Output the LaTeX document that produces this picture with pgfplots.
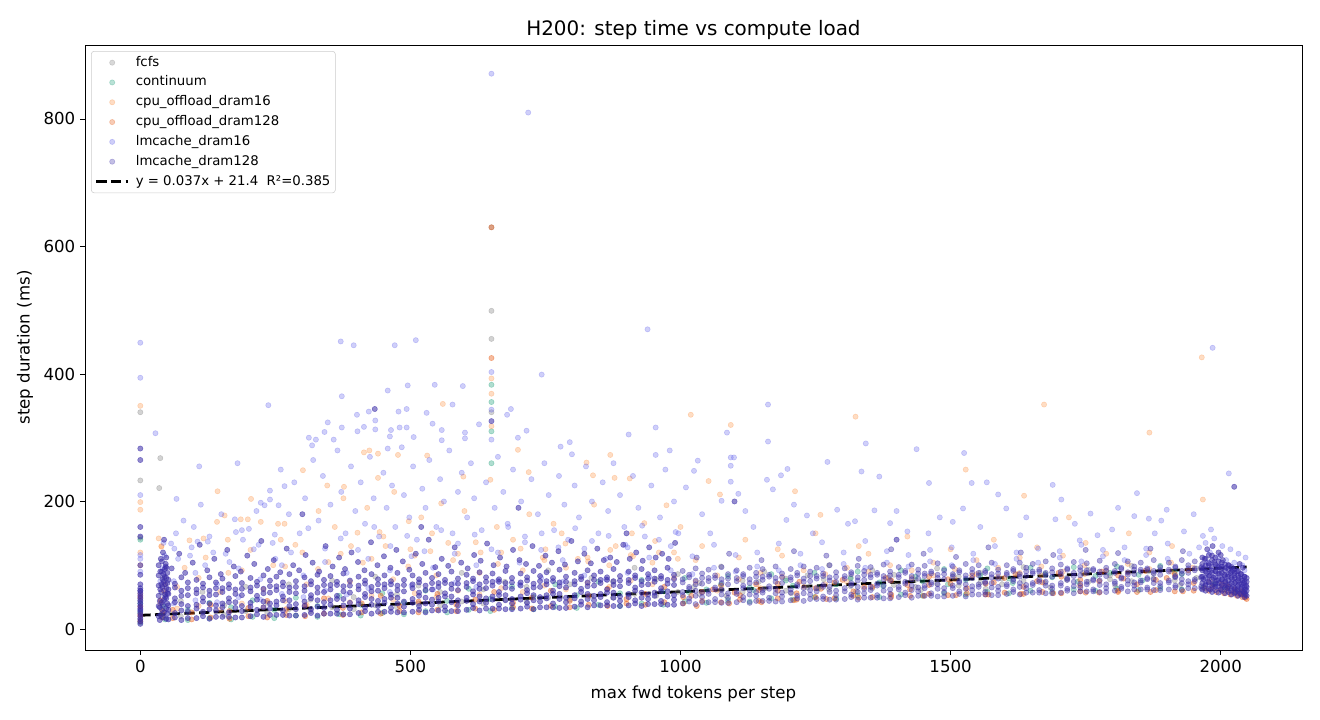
\documentclass[border=0pt]{standalone}
\usepackage{pgfplots}
\pgfplotsset{compat=1.18}
\usepackage{fontspec}
\setmainfont{DejaVu Sans}

\definecolor{cfcfs}{RGB}{128,128,128}
\definecolor{ccont}{RGB}{27,158,119}
\definecolor{ccpu16}{RGB}{253,141,60}
\definecolor{ccpu128}{RGB}{230,85,13}
\definecolor{clm16}{RGB}{95,95,235}
\definecolor{clm128}{RGB}{58,44,168}

\pgfplotsset{
    dot/.style 2 args={only marks, mark=*, mark size=1.9bp, color=#1,
        mark options={opacity=#2},
        legend image code/.code={\draw[mark repeat=2, mark phase=2, ##1, mark options={opacity=0.3}]
            plot coordinates {(0bp,0bp) (11.5bp,0bp) (23bp,0bp)};}},
    fitline/.style={black, line width=2bp, dash pattern=on 7.4bp off 3.2bp,
        legend image code/.code={\draw[##1] (0bp,0bp) -- (23bp,0bp);}},
}

\begin{document}
\begin{tikzpicture}
\useasboundingbox (0,0) rectangle (950.4bp,518.4bp);
\begin{axis}[
    at={(61.2bp,50.4bp)}, anchor=south west,
    scale only axis,
    width=876.2bp, height=435.6bp,
    xmin=-102.4, xmax=2150.4,
    ymin=-33, ymax=916,
    xtick={0,500,1000,1500,2000},
    ytick={0,200,400,600,800},
    xtick pos=bottom, ytick pos=left,
    tick align=outside,
    major tick length=3.5bp,
    tick style={black, line width=0.6bp},
    axis line style={line width=0.6bp},
    /pgf/number format/assume math mode=true,
    /pgf/number format/1000 sep={},
    tick label style={font=\fontsize{12}{14}\selectfont},
    title={H200: step time vs compute load},
    title style={font=\fontsize{14.4}{17}\selectfont, at={(axis description cs:0.5,1.0264)}, anchor=center, yshift=-6.5pt},
    xlabel={max fwd tokens per step},
    ylabel={step duration (ms)},
    xlabel style={font=\fontsize{12}{14}\selectfont, at={(axis description cs:0.5,-0.0727)}, anchor=center},
    ylabel style={font=\fontsize{12}{14}\selectfont, at={(axis description cs:-0.0493,0.5)}, anchor=center, rotate=0},
    legend cell align=left,
    legend style={at={(0.005,0.99)}, anchor=north west,
        draw={rgb,255:red,204;green,204;blue,204}, rounded corners=2bp,
        fill=white, fill opacity=0.8, text opacity=1,
        font=\fontsize{9.6}{11.5}\selectfont,
        nodes={inner sep=1bp, text height=7.2bp, text depth=2.1bp},
        row sep=2.96bp, inner xsep=2.5bp, inner ysep=2.5bp,
        /tikz/every odd column/.append style={column sep=3.5bp}},
]

% fcfs
\addplot[dot={cfcfs}{0.35}] coordinates {
(0,15) (0,30) (0,45) (0,60) (0,143) (0,233) (0,340) (35,221) (41,25) (45,55) (44,80) (37,268)
(75,20) (75,44) (115,25) (115,58) (155,22) (155,37) (195,28) (195,66) (235,25) (235,41)
(275,31) (275,70) (315,28) (315,46) (355,34) (355,76) (395,31) (395,50) (435,37) (435,82)
(475,34) (475,54) (515,40) (515,68) (555,37) (555,58) (595,43) (595,88) (635,40) (635,62)
(675,46) (675,74) (715,43) (715,66) (755,49) (755,92) (795,46) (795,70) (835,52) (835,80)
(875,49) (875,74) (915,55) (915,96) (955,52) (955,78) (995,58) (995,86) (1035,55) (1035,72)
(1075,61) (1075,98) (1115,58) (1115,76) (1155,63) (1155,90) (1195,60) (1195,79) (1235,65) (1235,84)
(1275,62) (1275,100) (1315,67) (1315,81) (1355,64) (1355,92) (1395,69) (1395,85) (1435,66) (1435,77)
(1475,71) (1475,95) (1515,68) (1515,82) (1555,73) (1555,88) (1595,70) (1595,79) (1635,75) (1635,97)
(1675,72) (1675,86) (1715,77) (1715,80) (1755,74) (1755,93) (1795,78) (1795,84) (1835,75) (1835,99)
(1875,79) (1875,88) (1915,76) (1915,82) (1955,80) (1955,95) (1990,72) (2010,66) (2030,60) (2045,56)
(1025,66) (1085,52) (1145,74) (1205,56) (1265,78) (1325,59) (1385,80) (1445,61) (1505,84) (1565,63)
(1625,86) (1685,65) (1745,88) (1805,67) (1865,90) (1925,69)
(650,630) (650,499) (650,455) (650,340)
};
\addlegendentry{fcfs}

% continuum
\addplot[dot={ccont}{0.35}] coordinates {
(0,10) (0,26) (0,40) (0,140) (39,20) (43,35) (46,15)
(88,14) (88,30) (128,17) (128,41) (168,15) (168,34) (208,19) (208,45) (248,17) (248,30)
(288,21) (288,49) (328,19) (328,36) (368,23) (368,52) (408,21) (408,38) (448,25) (448,56)
(488,23) (488,41) (528,28) (528,60) (568,26) (568,44) (608,30) (608,63) (648,28) (648,47)
(688,33) (688,67) (728,31) (728,50) (768,35) (768,70) (808,33) (808,53) (848,38) (848,74)
(888,36) (888,56) (928,40) (928,77) (968,38) (968,59) (1008,43) (1008,80) (1048,41) (1048,62)
(1088,45) (1088,83) (1128,43) (1128,65) (1168,48) (1168,86) (1208,46) (1208,68) (1248,50) (1248,88)
(1288,48) (1288,70) (1328,52) (1328,90) (1368,50) (1368,73) (1408,54) (1408,92) (1448,52) (1448,75)
(1488,56) (1488,94) (1528,54) (1528,77) (1568,58) (1568,95) (1608,56) (1608,79) (1648,60) (1648,96)
(1688,58) (1688,81) (1728,62) (1728,97) (1768,60) (1768,83) (1808,63) (1808,98) (1848,61) (1848,85)
(1888,64) (1888,99) (1928,62) (1928,86) (1968,65) (1988,70) (2008,62) (2028,58) (2044,55)
(1015,58) (1075,70) (1135,61) (1195,76) (1255,64) (1315,79) (1375,67) (1435,82) (1495,70) (1555,84)
(1615,72) (1675,86) (1735,74) (1795,88) (1855,76) (1915,90)
(650,383) (650,356) (650,310) (650,260)
};
\addlegendentry{continuum}

% cpu_offload_dram16
\addplot[dot={ccpu16}{0.3}] coordinates {
(0,20) (0,55) (0,100) (0,120) (0,187) (0,199) (0,350) (37,40) (45,70) (39,130)
(68,32) (68,66) (108,36) (108,80) (148,30) (148,58) (188,40) (188,92) (228,34) (228,62)
(268,44) (268,98) (308,38) (308,70) (348,48) (348,105) (388,42) (388,74) (428,52) (428,110)
(468,46) (468,78) (508,56) (508,115) (548,50) (548,84) (588,60) (588,118) (628,54) (628,88)
(668,64) (668,120) (708,58) (708,92) (748,68) (748,108) (788,62) (788,96) (828,72) (828,112)
(868,66) (868,100) (908,76) (908,116) (948,70) (948,104) (988,80) (988,120) (1028,74) (1028,108)
(1068,84) (1068,60) (1108,78) (1108,112) (1148,64) (1148,88) (1188,82) (1188,115) (1228,66) (1228,92)
(1268,86) (1268,70) (1308,96) (1308,74) (1348,90) (1348,118) (1388,76) (1388,100) (1428,92) (1428,80)
(1468,104) (1468,84) (1508,94) (1508,78) (1548,108) (1548,86) (1588,96) (1588,82) (1628,112) (1628,88)
(1668,98) (1668,84) (1708,115) (1708,90) (1748,100) (1748,86) (1788,118) (1788,92) (1828,102) (1828,88)
(1868,120) (1868,94) (1908,104) (1908,90) (1948,96) (1980,75) (2010,70) (2040,60)
(82,96) (121,112) (163,88) (204,124) (246,100) (287,132) (329,94) (371,118) (412,104) (454,130)
(496,98) (537,122) (579,108) (621,136) (662,102) (704,126) (745,112) (787,134) (829,106) (870,124)
(912,114) (953,138) (995,110)
(143,216) (205,204) (156,178) (142,168) (186,172) (199,172) (223,168) (255,165) (267,165)
(91,139) (117,142) (162,140) (34,142) (39,129) (560,353) (414,277) (424,280) (440,275)
(477,273) (531,272) (699,281) (870,273) (1019,336) (1093,320) (1324,333) (1673,352)
(1868,308) (1965,426) (1528,250) (1967,203) (1636,209) (1212,216) (1259,179) (1073,211)
(1052,232) (1719,175) (650,393) (650,369) (650,318)
(301,249) (346,225) (377,223) (440,237) (376,205) (402,151) (443,152) (497,169) (557,197)
(598,239) (648,234) (719,246) (765,165) (826,261) (838,241) (878,237) (906,236) (933,166) (974,194)
(260,140) (300,120) (330,185) (360,160) (390,130) (420,190) (450,145) (470,215) (500,125)
(520,175) (540,150) (570,135) (600,185) (630,120) (660,160) (690,140) (720,180) (750,125)
(780,150) (810,110) (840,195) (880,130) (910,150) (960,120) (1000,160) (1040,130) (1120,140)
(1180,125) (1250,150) (1330,130) (1420,145) (1500,125) (1580,140) (1660,128) (1750,135)
(1830,150) (1910,130)
};
\addlegendentry{cpu\_offload\_dram16}

% cpu_offload_dram128
\addplot[dot={ccpu128}{0.4}] coordinates {
(0,12) (0,22) (0,35) (0,50) (40,18) (42,28) (38,45) (44,60)
(60,17) (60,30) (95,15) (95,26) (130,18) (130,38) (165,16) (165,28) (200,20) (200,33)
(235,18) (235,44) (270,22) (270,31) (305,20) (305,37) (340,24) (340,48) (375,22) (375,33)
(410,26) (410,40) (445,24) (445,52) (480,28) (480,36) (515,26) (515,43) (550,30) (550,55)
(585,28) (585,38) (620,32) (620,46) (655,30) (655,58) (690,34) (690,41) (725,32) (725,49)
(760,36) (760,60) (795,34) (795,44) (830,38) (830,52) (865,36) (865,63) (900,40) (900,47)
(935,38) (935,55) (970,42) (970,66) (1005,40) (1005,50) (1040,44) (1040,58) (1075,42) (1075,68)
(1110,46) (1110,53) (1145,44) (1145,61) (1180,48) (1180,71) (1215,46) (1215,56) (1250,50) (1250,64)
(1285,48) (1285,73) (1320,52) (1320,59) (1355,50) (1355,66) (1390,54) (1390,76) (1425,52) (1425,62)
(1460,55) (1460,69) (1495,53) (1495,78) (1530,56) (1530,64) (1565,54) (1565,71) (1600,57) (1600,80)
(1635,55) (1635,66) (1670,58) (1670,73) (1705,56) (1705,82) (1740,59) (1740,68) (1775,57) (1775,75)
(1810,60) (1810,84) (1845,58) (1845,70) (1880,61) (1880,77) (1915,59) (1915,86) (1950,60) (1950,72)
(1020,52) (1060,62) (1100,57) (1140,70) (1180,60) (1220,74) (1260,63) (1300,77) (1340,66) (1380,80)
(1420,69) (1460,82) (1500,71) (1540,84) (1580,73) (1620,86) (1660,75) (1700,88) (1740,77) (1780,90)
(1820,79) (1860,91) (1900,80) (1940,92)
(1030,36) (1090,40) (1150,42) (1210,45) (1270,47) (1330,49) (1390,50) (1450,52) (1510,53) (1570,54)
(1630,55) (1690,56) (1750,57) (1810,58) (1870,58) (1930,59)
(1970,64) (1978,60) (1985,66) (1992,58) (2000,62) (2006,56) (2012,60) (2018,54) (2024,57) (2030,52)
(2035,55) (2040,50) (2044,52) (2048,47) (2046,49) (2042,54) (2038,58) (2026,62) (2014,66) (2002,70)
(650,425) (650,630)
};
\addlegendentry{cpu\_offload\_dram128}

% lmcache_dram16
\addplot[dot={clm16}{0.3}] coordinates {
(0,30) (0,60) (0,90) (0,110) (0,116) (0,210) (0,394) (0,449)
(37,75) (41,95) (45,115) (43,135) (47,60) (28,307)
(62,40) (62,75) (102,45) (102,88) (142,42) (142,70) (182,50) (182,95) (222,46) (222,78)
(262,55) (262,100) (302,50) (302,84) (342,60) (342,105) (382,54) (382,88) (422,64) (422,110)
(462,58) (462,92) (502,68) (502,114) (542,62) (542,96) (582,72) (582,118) (622,66) (622,100)
(662,76) (662,120) (702,70) (702,104) (742,80) (742,124) (782,74) (782,108) (822,84) (822,126)
(862,78) (862,110) (902,88) (902,128) (942,82) (942,112) (982,92) (982,130) (1022,86) (1022,114)
(1062,96) (1062,132) (1102,90) (1102,116) (1142,98) (1142,120) (1182,92) (1182,134) (1222,100) (1222,118)
(1262,94) (1262,136) (1302,102) (1302,120) (1342,96) (1342,138) (1382,104) (1382,122) (1422,98) (1422,116)
(1462,106) (1462,124) (1502,100) (1502,128) (1542,108) (1542,118) (1582,102) (1582,130) (1622,110) (1622,120)
(1662,104) (1662,126) (1702,112) (1702,122) (1742,106) (1742,132) (1782,114) (1782,124) (1822,108) (1822,128)
(1862,116) (1862,126) (1902,110) (1902,134) (1942,118) (1960,128)
(66,150) (95,128) (128,145) (158,118) (188,155) (219,132) (249,148) (279,120) (311,158) (342,126)
(371,142) (403,124) (433,160) (463,130) (494,146) (526,122) (557,155) (588,134) (619,148) (650,125)
(681,160) (712,136) (743,150) (774,128) (805,158) (836,138) (867,146) (898,132) (929,162) (960,140) (991,152)
(1972,135) (1980,120) (1988,142) (1995,112) (2003,130) (2010,108) (2018,125) (2025,104) (2033,118)
(2040,100) (2046,112) (1976,104) (1999,98) (2021,95) (2044,92)
(650,871) (718,810) (650,403) (371,451) (395,445) (471,445) (510,453) (743,399) (939,470)
(650,344) (650,297) (373,365) (458,374) (495,382) (545,383) (597,381) (578,352) (423,341)
(478,341) (493,345) (530,339) (401,336) (347,324) (312,300) (325,297) (318,288) (341,309)
(358,297) (373,316) (402,310) (414,317) (435,327) (435,313) (462,302) (464,312) (480,316)
(493,316) (506,301) (541,322) (558,312) (558,296) (601,308) (601,299) (627,321) (679,336)
(686,345) (715,311) (699,300) (458,283) (904,305) (954,316) (980,280) (778,286) (795,293)
(799,274) (954,273) (1985,441) (1162,352) (1162,294) (1343,291) (1086,308) (1093,269)
(1099,269) (1093,256) (1032,264) (1025,248) (1010,222) (1437,282) (1525,276) (2015,244)
(1845,213) (1900,187) (1689,226) (1567,230) (1539,229) (1460,229) (1368,239) (1335,247)
(1272,262) (1198,251) (1186,241) (1160,234) (1171,219) (1107,212) (1093,231) (1076,201)
(1705,203) (1759,181) (1840,177) (1867,173) (1932,153) (1967,146) (1982,156) (1878,150)
(1799,156) (1772,147) (1739,139) (1694,172) (1629,147) (1603,189) (1588,211) (1523,189)
(1504,168) (1459,150) (1420,153) (1388,166) (1359,186) (1323,169) (1290,187) (1234,178) (1196,171)
(67,204) (223,198) (230,194) (240,217) (240,203) (256,194) (267,224) (99,160) (106,137)
(125,137) (175,172) (177,152) (201,157) (57,134) (63,126) (237,351) (109,255) (180,260)
(260,250) (275,180) (285,230) (295,150) (305,205) (320,265) (330,170) (338,240) (352,195)
(365,280) (372,215) (380,150) (390,255) (398,185) (408,230) (416,165) (425,270) (432,205)
(442,145) (450,245) (456,190) (466,225) (472,160) (484,285) (488,210) (498,175) (505,255)
(512,140) (522,220) (528,190) (535,265) (548,160) (555,235) (562,200) (572,280) (578,150)
(588,215) (595,245) (605,175) (612,260) (618,205) (632,155) (640,230) (656,190) (662,270)
(672,215) (680,165) (690,250) (705,200) (712,145) (724,235) (736,180) (748,260) (756,210)
(766,155) (775,240) (785,195) (792,140) (804,225) (812,175) (825,255) (836,200) (848,150)
(856,230) (866,185) (876,260) (888,210) (896,160) (912,240) (922,190) (934,145) (946,225)
(962,175) (972,250) (988,200) (996,150) (1040,180) (1055,150) (1120,185) (1135,160) (1210,195)
(1245,150) (1310,165) (1400,185) (1480,175) (1555,160) (1640,175) (1730,165) (1810,190)
(1890,170) (1950,180)
(80,170) (92,115) (112,195) (135,120) (150,180) (165,105) (190,140) (210,125) (215,185)
(245,135) (250,110) (120,100) (70,110)
};
\addlegendentry{lmcache\_dram16}

% lmcache_dram128: x=0 and x~40 columns, band below 1000, cluster near 2048, outliers
\addplot[dot={clm128}{0.55}] coordinates {
(0,8) (0,12) (0,16) (0,20) (0,24) (0,28) (0,32) (0,36) (0,40) (0,44) (0,48) (0,52)
(0,56) (0,60) (0,64) (0,70) (0,85) (0,100) (0,145) (0,160) (0,265) (0,283)
(36,14) (38,22) (40,30) (42,38) (44,46) (46,54) (37,62) (39,70) (41,78) (43,86) (45,94)
(47,102) (38,110) (42,18) (44,26) (36,34) (40,42) (46,50) (39,58) (41,66) (43,74) (45,82)
(37,90) (47,98) (40,106) (42,120) (44,140)
(34,20) (34,36) (34,52) (34,68) (34,84) (34,100) (48,16) (48,32) (48,48) (48,64) (48,80)
(48,96) (48,112) (50,24) (50,40) (50,56) (50,72) (50,88) (36,44) (46,70) (40,90)
(52,15) (52,30) (52,37) (52,55) (52,62) (52,77) (64,18) (64,25) (64,42) (64,48) (64,65) (64,71)
(76,14) (76,29) (76,39) (76,52) (76,60) (76,81) (88,17) (88,27) (88,36) (88,53) (88,64) (88,73)
(104,17) (104,32) (104,38) (104,56) (104,62) (104,77) (116,20) (116,27) (116,43) (116,49) (116,65) (116,71)
(128,16) (128,31) (128,40) (128,53) (128,60) (128,81) (140,19) (140,29) (140,37) (140,54) (140,64) (140,73)
(152,19) (152,34) (152,40) (152,58) (152,64) (152,79) (164,19) (164,26) (164,42) (164,48) (164,64) (164,70)
(176,18) (176,33) (176,42) (176,55) (176,62) (176,83) (188,18) (188,28) (188,36) (188,53) (188,63) (188,72)
(204,20) (204,35) (204,41) (204,59) (204,65) (204,80) (216,23) (216,30) (216,46) (216,52) (216,68) (216,74)
(228,19) (228,34) (228,43) (228,56) (228,63) (228,84) (240,22) (240,32) (240,40) (240,57) (240,67) (240,76)
(252,22) (252,37) (252,43) (252,61) (252,67) (252,82) (264,22) (264,29) (264,45) (264,51) (264,67) (264,73)
(276,21) (276,36) (276,45) (276,58) (276,65) (276,86) (288,21) (288,31) (288,39) (288,56) (288,66) (288,75)
(304,22) (304,36) (304,43) (304,60) (304,67) (304,81) (316,25) (316,31) (316,48) (316,53) (316,70) (316,75)
(328,21) (328,35) (328,45) (328,57) (328,65) (328,85) (340,24) (340,33) (340,42) (340,58) (340,69) (340,77)
(352,24) (352,38) (352,45) (352,62) (352,69) (352,83) (364,24) (364,30) (364,47) (364,52) (364,69) (364,74)
(376,23) (376,37) (376,47) (376,59) (376,67) (376,87) (388,23) (388,32) (388,41) (388,57) (388,68) (388,76)
(404,25) (404,39) (404,45) (404,62) (404,68) (404,82) (416,28) (416,34) (416,50) (416,55) (416,71) (416,76)
(428,24) (428,38) (428,47) (428,59) (428,66) (428,86) (440,27) (440,36) (440,44) (440,60) (440,70) (440,78)
(452,27) (452,41) (452,47) (452,64) (452,70) (452,84) (464,27) (464,33) (464,49) (464,54) (464,70) (464,75)
(476,26) (476,40) (476,49) (476,61) (476,68) (476,88) (488,26) (488,35) (488,43) (488,59) (488,69) (488,77)
(504,27) (504,41) (504,47) (504,64) (504,70) (504,84) (516,30) (516,36) (516,52) (516,57) (516,73) (516,78)
(528,26) (528,40) (528,49) (528,61) (528,68) (528,88) (540,29) (540,38) (540,46) (540,62) (540,72) (540,80)
(552,29) (552,43) (552,49) (552,66) (552,72) (552,86) (564,29) (564,35) (564,51) (564,56) (564,72) (564,77)
(576,28) (576,42) (576,51) (576,63) (576,70) (576,90) (588,28) (588,37) (588,45) (588,61) (588,71) (588,79)
(604,30) (604,44) (604,49) (604,66) (604,72) (604,85) (616,33) (616,39) (616,54) (616,59) (616,75) (616,79)
(628,29) (628,43) (628,51) (628,63) (628,70) (628,89) (640,32) (640,41) (640,48) (640,64) (640,74) (640,81)
(652,32) (652,46) (652,51) (652,68) (652,74) (652,87) (664,32) (664,38) (664,53) (664,58) (664,74) (664,78)
(676,31) (676,45) (676,53) (676,65) (676,72) (676,91) (688,31) (688,40) (688,47) (688,63) (688,73) (688,80)
(704,32) (704,46) (704,51) (704,68) (704,73) (704,87) (716,35) (716,41) (716,56) (716,61) (716,76) (716,81)
(728,31) (728,45) (728,53) (728,65) (728,71) (728,91) (740,34) (740,43) (740,50) (740,66) (740,75) (740,83)
(752,34) (752,48) (752,53) (752,70) (752,75) (752,89) (764,34) (764,40) (764,55) (764,60) (764,75) (764,80)
(776,33) (776,47) (776,55) (776,67) (776,73) (776,93) (788,33) (788,42) (788,49) (788,65) (788,74) (788,82)
(804,35) (804,48) (804,53) (804,70) (804,75) (804,88) (816,38) (816,43) (816,58) (816,63) (816,78) (816,82)
(828,34) (828,47) (828,55) (828,67) (828,73) (828,92) (840,37) (840,45) (840,52) (840,68) (840,77) (840,84)
(852,37) (852,50) (852,55) (852,72) (852,77) (852,90) (864,37) (864,42) (864,57) (864,62) (864,77) (864,81)
(876,36) (876,49) (876,57) (876,69) (876,75) (876,94) (888,36) (888,44) (888,51) (888,67) (888,76) (888,83)
(904,37) (904,50) (904,55) (904,72) (904,77) (904,90) (916,40) (916,45) (916,60) (916,65) (916,80) (916,84)
(928,36) (928,49) (928,57) (928,69) (928,75) (928,94) (940,39) (940,47) (940,54) (940,70) (940,79) (940,86)
(952,39) (952,52) (952,57) (952,74) (952,79) (952,92) (964,39) (964,44) (964,59) (964,64) (964,79) (964,83)
(976,38) (976,51) (976,59) (976,71) (976,77) (976,96) (988,38) (988,46) (988,53) (988,69) (988,78) (988,85)
(58,95) (72,118) (83,88) (97,104) (110,132) (124,92) (137,110) (149,86) (161,124) (173,98)
(186,90) (198,115) (211,102) (224,138) (236,94) (247,108) (259,89) (271,126) (283,100) (294,92)
(306,116) (319,104) (331,90) (343,130) (356,98) (368,112) (379,94) (391,120) (403,105) (415,92)
(427,136) (439,100) (451,114) (463,96) (474,124) (486,106) (498,93) (510,118) (522,102) (534,140)
(546,97) (558,110) (570,99) (582,128) (594,104) (606,95) (618,116) (630,107) (642,134) (654,100)
(666,112) (678,98) (690,124) (702,108) (714,102) (726,130) (738,99) (750,115) (762,104) (774,122)
(786,101) (798,138) (810,106) (822,118) (834,103) (846,126) (858,108) (870,112) (882,105) (894,132)
(906,110) (918,120) (930,107) (942,128) (954,112) (966,118) (978,110) (990,135)
(1968,78) (1968,95) (1970,110) (1972,68) (1974,88) (1975,125) (1977,74) (1978,100) (1980,84)
(1981,62) (1983,92) (1984,115) (1986,70) (1987,80) (1988,105) (1990,66) (1991,90) (1993,76)
(1994,98) (1996,120) (1997,72) (1998,86) (2000,62) (2001,94) (2003,78) (2004,108) (2006,68)
(2007,85) (2009,74) (2010,96) (2012,64) (2013,82) (2015,100) (2016,70) (2018,88) (2019,60)
(2021,78) (2022,92) (2024,66) (2025,84) (2027,58) (2028,74) (2030,90) (2031,62) (2033,80)
(2034,70) (2036,56) (2037,86) (2039,66) (2040,76) (2042,58) (2043,72) (2044,82) (2045,62)
(2046,54) (2047,68) (2048,60) (2048,74) (1985,130) (2000,116) (2035,102) (2041,96)
(1966,62) (1966,72) (1966,82) (1966,92) (1966,102) (1966,112) (1972,60) (1972,70) (1972,80) (1972,90) (1972,100) (1972,110)
(1978,63) (1978,73) (1978,83) (1978,93) (1978,103) (1978,116) (1984,58) (1984,68) (1984,78) (1984,88) (1984,98) (1984,108)
(1990,61) (1990,71) (1990,81) (1990,91) (1990,101) (1990,112) (1996,57) (1996,67) (1996,77) (1996,87) (1996,97) (1996,106)
(2002,60) (2002,69) (2002,78) (2002,88) (2002,98) (2002,104) (2008,56) (2008,65) (2008,74) (2008,83) (2008,92) (2008,101)
(2014,58) (2014,67) (2014,76) (2014,85) (2014,94) (2014,100) (2020,54) (2020,63) (2020,72) (2020,81) (2020,90) (2020,97)
(2026,56) (2026,64) (2026,72) (2026,80) (2026,88) (2026,94) (2032,52) (2032,60) (2032,68) (2032,76) (2032,84) (2032,91)
(2038,54) (2038,62) (2038,70) (2038,78) (2038,86) (2044,50) (2044,58) (2044,66) (2044,74) (2044,82)
(2048,52) (2048,66) (2048,80)
(650,326) (434,345) (2025,223) (300,180) (520,160) (700,190) (900,150) (1100,200) (1400,140)
};
\addlegendentry{lmcache\_dram128}

% lmcache_dram128: band from 1000 to 1965 (same series, sparser there)
\addplot[dot={clm128}{0.4}, forget plot] coordinates {
(1004,40) (1004,53) (1004,58) (1004,73) (1004,78) (1004,91) (1016,43) (1016,48) (1016,63) (1016,66) (1016,81) (1016,85)
(1028,39) (1028,52) (1028,60) (1028,70) (1028,76) (1028,95) (1040,42) (1040,50) (1040,57) (1040,71) (1040,80) (1040,87)
(1052,42) (1052,55) (1052,60) (1052,75) (1052,80) (1052,93) (1064,42) (1064,47) (1064,62) (1064,65) (1064,80) (1064,84)
(1076,41) (1076,54) (1076,62) (1076,72) (1076,78) (1076,97) (1088,41) (1088,49) (1088,56) (1088,70) (1088,79) (1088,86)
(1104,42) (1104,55) (1104,59) (1104,75) (1104,80) (1104,92) (1116,45) (1116,50) (1116,64) (1116,68) (1116,83) (1116,86)
(1128,41) (1128,54) (1128,61) (1128,72) (1128,78) (1128,96) (1140,44) (1140,52) (1140,58) (1140,73) (1140,82) (1140,88)
(1152,44) (1152,57) (1152,61) (1152,77) (1152,82) (1152,94) (1164,44) (1164,49) (1164,63) (1164,67) (1164,82) (1164,85)
(1176,43) (1176,56) (1176,63) (1176,74) (1176,80) (1176,98) (1188,43) (1188,51) (1188,57) (1188,72) (1188,81) (1188,87)
(1204,45) (1204,57) (1204,62) (1204,77) (1204,81) (1204,94) (1216,48) (1216,52) (1216,67) (1216,70) (1216,84) (1216,88)
(1228,44) (1228,56) (1228,64) (1228,74) (1228,79) (1228,98) (1240,47) (1240,54) (1240,61) (1240,75) (1240,83) (1240,90)
(1252,47) (1252,59) (1252,64) (1252,79) (1252,83) (1252,96) (1264,47) (1264,51) (1264,66) (1264,69) (1264,83) (1264,87)
(1276,46) (1276,58) (1276,66) (1276,76) (1276,81) (1276,100) (1288,46) (1288,53) (1288,60) (1288,74) (1288,82) (1288,89)
(1304,47) (1304,59) (1304,64) (1304,79) (1304,83) (1304,95) (1316,50) (1316,54) (1316,69) (1316,72) (1316,86) (1316,89)
(1328,46) (1328,58) (1328,66) (1328,76) (1328,81) (1328,99) (1340,49) (1340,56) (1340,63) (1340,77) (1340,85) (1340,91)
(1352,49) (1352,61) (1352,66) (1352,81) (1352,85) (1352,97) (1364,49) (1364,53) (1364,68) (1364,71) (1364,85) (1364,88)
(1376,48) (1376,60) (1376,68) (1376,78) (1376,83) (1376,101) (1388,48) (1388,55) (1388,62) (1388,76) (1388,84) (1388,90)
(1404,50) (1404,62) (1404,66) (1404,81) (1404,85) (1404,97) (1416,53) (1416,57) (1416,71) (1416,74) (1416,88) (1416,91)
(1428,49) (1428,61) (1428,68) (1428,78) (1428,83) (1428,101) (1440,52) (1440,59) (1440,65) (1440,79) (1440,87) (1440,93)
(1452,52) (1452,64) (1452,68) (1452,83) (1452,87) (1452,99) (1464,52) (1464,56) (1464,70) (1464,73) (1464,87) (1464,90)
(1476,51) (1476,63) (1476,70) (1476,80) (1476,85) (1476,103) (1488,51) (1488,58) (1488,64) (1488,78) (1488,86) (1488,92)
(1504,52) (1504,64) (1504,68) (1504,82) (1504,86) (1504,98) (1516,55) (1516,59) (1516,73) (1516,75) (1516,89) (1516,92)
(1528,51) (1528,63) (1528,70) (1528,79) (1528,84) (1528,102) (1540,54) (1540,61) (1540,67) (1540,80) (1540,88) (1540,94)
(1552,54) (1552,66) (1552,70) (1552,84) (1552,88) (1552,100) (1564,54) (1564,58) (1564,72) (1564,74) (1564,88) (1564,91)
(1576,53) (1576,65) (1576,72) (1576,81) (1576,86) (1576,104) (1588,53) (1588,60) (1588,66) (1588,79) (1588,87) (1588,93)
(1604,55) (1604,67) (1604,70) (1604,85) (1604,88) (1604,100) (1616,58) (1616,62) (1616,75) (1616,78) (1616,91) (1616,94)
(1628,54) (1628,66) (1628,72) (1628,82) (1628,86) (1628,104) (1640,57) (1640,64) (1640,69) (1640,83) (1640,90) (1640,96)
(1652,57) (1652,69) (1652,72) (1652,87) (1652,90) (1652,102) (1664,57) (1664,61) (1664,74) (1664,77) (1664,90) (1664,93)
(1676,56) (1676,68) (1676,74) (1676,84) (1676,88) (1676,106) (1688,56) (1688,63) (1688,68) (1688,82) (1688,89) (1688,95)
(1704,57) (1704,68) (1704,72) (1704,86) (1704,90) (1704,101) (1716,60) (1716,63) (1716,77) (1716,79) (1716,93) (1716,95)
(1728,56) (1728,67) (1728,74) (1728,83) (1728,88) (1728,105) (1740,59) (1740,65) (1740,71) (1740,84) (1740,92) (1740,97)
(1752,59) (1752,70) (1752,74) (1752,88) (1752,92) (1752,103) (1764,59) (1764,62) (1764,76) (1764,78) (1764,92) (1764,94)
(1776,58) (1776,69) (1776,76) (1776,85) (1776,90) (1776,107) (1788,58) (1788,64) (1788,70) (1788,83) (1788,91) (1788,96)
(1804,60) (1804,71) (1804,74) (1804,88) (1804,91) (1804,102) (1816,63) (1816,66) (1816,79) (1816,81) (1816,94) (1816,96)
(1828,59) (1828,70) (1828,76) (1828,85) (1828,89) (1828,106) (1840,62) (1840,68) (1840,73) (1840,86) (1840,93) (1840,98)
(1852,62) (1852,73) (1852,76) (1852,90) (1852,93) (1852,104) (1864,62) (1864,65) (1864,78) (1864,80) (1864,93) (1864,95)
(1876,61) (1876,72) (1876,78) (1876,87) (1876,91) (1876,108) (1888,61) (1888,67) (1888,72) (1888,85) (1888,92) (1888,97)
(1904,62) (1904,73) (1904,76) (1904,90) (1904,93) (1904,104) (1916,65) (1916,68) (1916,81) (1916,83) (1916,96) (1916,98)
(1928,61) (1928,72) (1928,78) (1928,87) (1928,91) (1928,108) (1940,64) (1940,70) (1940,75) (1940,88) (1940,95) (1940,100)
(1952,64) (1952,75) (1952,78) (1952,92) (1952,95) (1952,106) (1964,64) (1964,67) (1964,80) (1964,82) (1964,95) (1964,97)
(1030,112) (1090,118) (1150,108) (1210,122) (1270,115) (1330,110) (1390,125) (1450,118) (1510,113) (1570,128)
(1630,120) (1690,116) (1750,124) (1810,119) (1870,126) (1930,122)
};

% least-squares fit
\addplot[fitline] coordinates {(0,21.4) (2048,97.2)};
\addlegendentry{y = 0.037x + 21.4\ \ R²=0.385}

\end{axis}
\end{tikzpicture}
\end{document}
